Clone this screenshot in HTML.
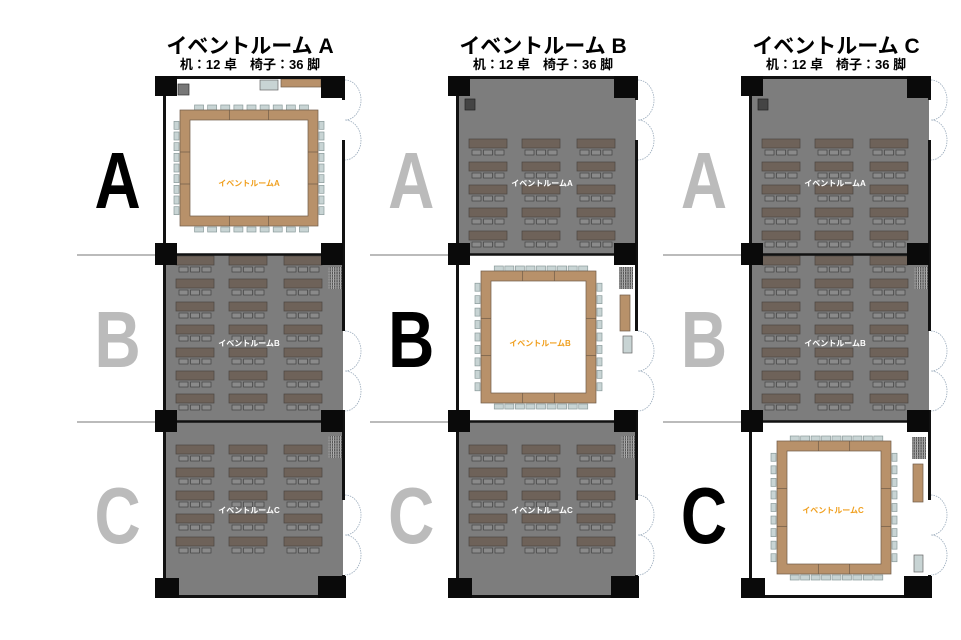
<!DOCTYPE html>
<html><head><meta charset="utf-8"><style>
html,body{margin:0;padding:0;background:#fff;}
svg{display:block;}
.t{font-family:"Liberation Sans","Noto Sans CJK JP",sans-serif;font-weight:bold;}
</style></head><body>
<svg id="s" width="961" height="640" viewBox="0 0 961 640" xmlns="http://www.w3.org/2000/svg">
<g id="shapes"></g>
<g class="t" text-anchor="middle">
<text x="250" y="53" font-size="21">イベントルーム A</text>
<text x="250" y="69" font-size="13">机：12 卓　椅子：36 脚</text>
<text x="543" y="53" font-size="21">イベントルーム B</text>
<text x="543" y="69" font-size="13">机：12 卓　椅子：36 脚</text>
<text x="836" y="53" font-size="21">イベントルーム C</text>
<text x="836" y="69" font-size="13">机：12 卓　椅子：36 脚</text>

<g font-size="80" transform="scale(0.8,1)">
<text x="147" y="208" fill="#000">A</text>
<text x="147" y="367" fill="#bbb">B</text>
<text x="147" y="543" fill="#bbb">C</text>
<text x="514" y="208" fill="#bbb">A</text>
<text x="514" y="367" fill="#000">B</text>
<text x="514" y="543" fill="#bbb">C</text>
<text x="880" y="208" fill="#bbb">A</text>
<text x="880" y="367" fill="#bbb">B</text>
<text x="880" y="543" fill="#000">C</text>
</g>

<g font-size="8">
<text x="249" y="186" fill="#f0a020">イベントルームA</text>
<text x="249" y="346" fill="#fff">イベントルームB</text>
<text x="249" y="513" fill="#fff">イベントルームC</text>
<text x="542" y="186" fill="#fff">イベントルームA</text>
<text x="540" y="346" fill="#f0a020">イベントルームB</text>
<text x="542" y="513" fill="#fff">イベントルームC</text>
<text x="835" y="186" fill="#fff">イベントルームA</text>
<text x="835" y="346" fill="#fff">イベントルームB</text>
<text x="833" y="513" fill="#f0a020">イベントルームC</text>
</g>
</g>
</svg>
<script>
var g=document.getElementById('shapes');var out='';
function R(x,y,w,h,f,st){out+='<rect x="'+x+'" y="'+y+'" width="'+w+'" height="'+h+'" fill="'+f+'"'+(st?' stroke="'+st+'" stroke-width="0.7"':'')+'/>';}
function L(x1,y1,x2,y2,c,w){out+='<line x1="'+x1+'" y1="'+y1+'" x2="'+x2+'" y2="'+y2+'" stroke="'+c+'" stroke-width="'+w+'"/>';}
function door(x,y){out+='<path d="M'+x+','+y+' A16,20 0 0 1 '+x+','+(y+40)+' A16,20 0 0 1 '+x+','+(y+80)+'" fill="none" stroke="#9ab" stroke-width="0.8" stroke-dasharray="1.5,1"/>';}
function desks(dx,y0,n){
 var xs=[176,229,284];
 for(var r=0;r<n;r++){var y=y0+r*23;
  for(var c=0;c<3;c++){var x=dx+xs[c];
   R(x,y,38,9,'#6e6259','#4a4540');
   for(var k=0;k<3;k++)R(x+3+k*11.5,y+11,9,5,'#8a8a8a','#444');
  }}
}
function vent(x,y){R(x,y,14,22,'#555');for(var i=0;i<6;i++)L(x+1+i*2.3,y,x+1+i*2.3,y+22,'#ccc',0.8);for(var j=0;j<8;j++)L(x,y+2+j*2.7,x+14,y+2+j*2.7,'#999',0.6);}
function conf(x1,y1,x2,y2){
 var b=10;
 // chairs
 var w=x2-x1,h=y2-y1;
 for(var i=0;i<9;i++){var seg=Math.floor(i/3),k=i%3;var cx=x1+b+ (w-2*b)*seg/3 + ((w-2*b)/3)*(k+0.5)/3 +2;
  R(cx-4,y1-5,9,5,'#c8d4d4','#8a9a9a');R(cx-4,y2+1,9,5,'#c8d4d4','#8a9a9a');
  var cy=y1+b+(h-2*b)*seg/3+((h-2*b)/3)*(k+0.5)/3;
  R(x1-6,cy-4,5,8,'#c8d4d4','#8a9a9a');R(x2+1,cy-4,5,8,'#c8d4d4','#8a9a9a');}
 R(x1,y1,w,h,'#b8916a','#6e5a48');R(x1+b,y1+b,w-2*b,h-2*b,'#fff','#6e5a48');
 for(var s=1;s<3;s++){var xx=x1+b+(w-2*b)*s/3;L(xx,y1,xx,y1+b,'#6e5a48',0.7);L(xx,y2-b,xx,y2,'#6e5a48',0.7);
  var yy=y1+b+(h-2*b)*s/3;L(x1,yy,x1+b,yy,'#6e5a48',0.7);L(x2-b,yy,x2,yy,'#6e5a48',0.7);}
}
function panel(dx,act){
 var G='#7d7d7d';
 // rooms
 R(dx+165,78,178,176,act==0?'#fff':G);
 R(dx+165,254,178,167,act==1?'#fff':G);
 R(dx+165,421,178,176,act==2?'#fff':G);
 // gray extension lines
 L(dx+77,255,dx+157,255,'#bbb',2);L(dx+77,422,dx+157,422,'#bbb',2);
 // contents
 if(act==0){conf(dx+180,110,dx+318,226);R(dx+178,84,11,11,'#777','#333');R(dx+260,80,18,10,'#c8d4d4','#666');R(dx+281,79,40,8,'#b8916a','#6e5a48');}
 else {desks(dx,139,5);R(dx+172,99,10,11,'#444','#222');}
 if(act==1){conf(dx+188,271,dx+303,403);vent(dx+326,267);R(dx+327,295,10,36,'#b8916a','#6e5a48');R(dx+330,336,9,17,'#c8d4d4','#666');}
 else {desks(dx,256,7);vent(dx+328,267);}
 if(act==2){conf(dx+191,441,dx+305,574);vent(dx+326,437);R(dx+327,464,10,38,'#b8916a','#6e5a48');R(dx+328,555,9,17,'#c8d4d4','#666');}
 else {desks(dx,445,5);vent(dx+328,436);}
 // walls
 L(dx+157,77.5,dx+345,77.5,'#111',3);
 L(dx+164.5,78,dx+164.5,598,'#111',3);
 L(dx+157,596.5,dx+345,596.5,'#111',3);
 L(dx+165,254.5,dx+343,254.5,'#111',2.5);L(dx+165,421.5,dx+343,421.5,'#111',2.5);
 // right wall with door gaps
 var gaps=[[100,140],[331,410],[500,575]];
 var segs=[[78,100],[140,331],[410,500],[575,598]];
 segs.forEach(function(s){L(dx+343.5,s[0],dx+343.5,s[1],'#111',3);});
 door(dx+345,80);door(dx+345,331);door(dx+345,495);
 // pillars
 [[155,76,22,20],[321,76,24,22],[155,243,22,22],[321,243,22,22],[155,410,22,22],[321,410,22,22],[155,578,24,20],[318,576,28,22]].forEach(function(p){R(dx+p[0],p[1],p[2],p[3],'#0a0a0a');});
}
panel(0,0);panel(293,1);panel(586,2);
g.innerHTML=out;
</script>
</body></html>
